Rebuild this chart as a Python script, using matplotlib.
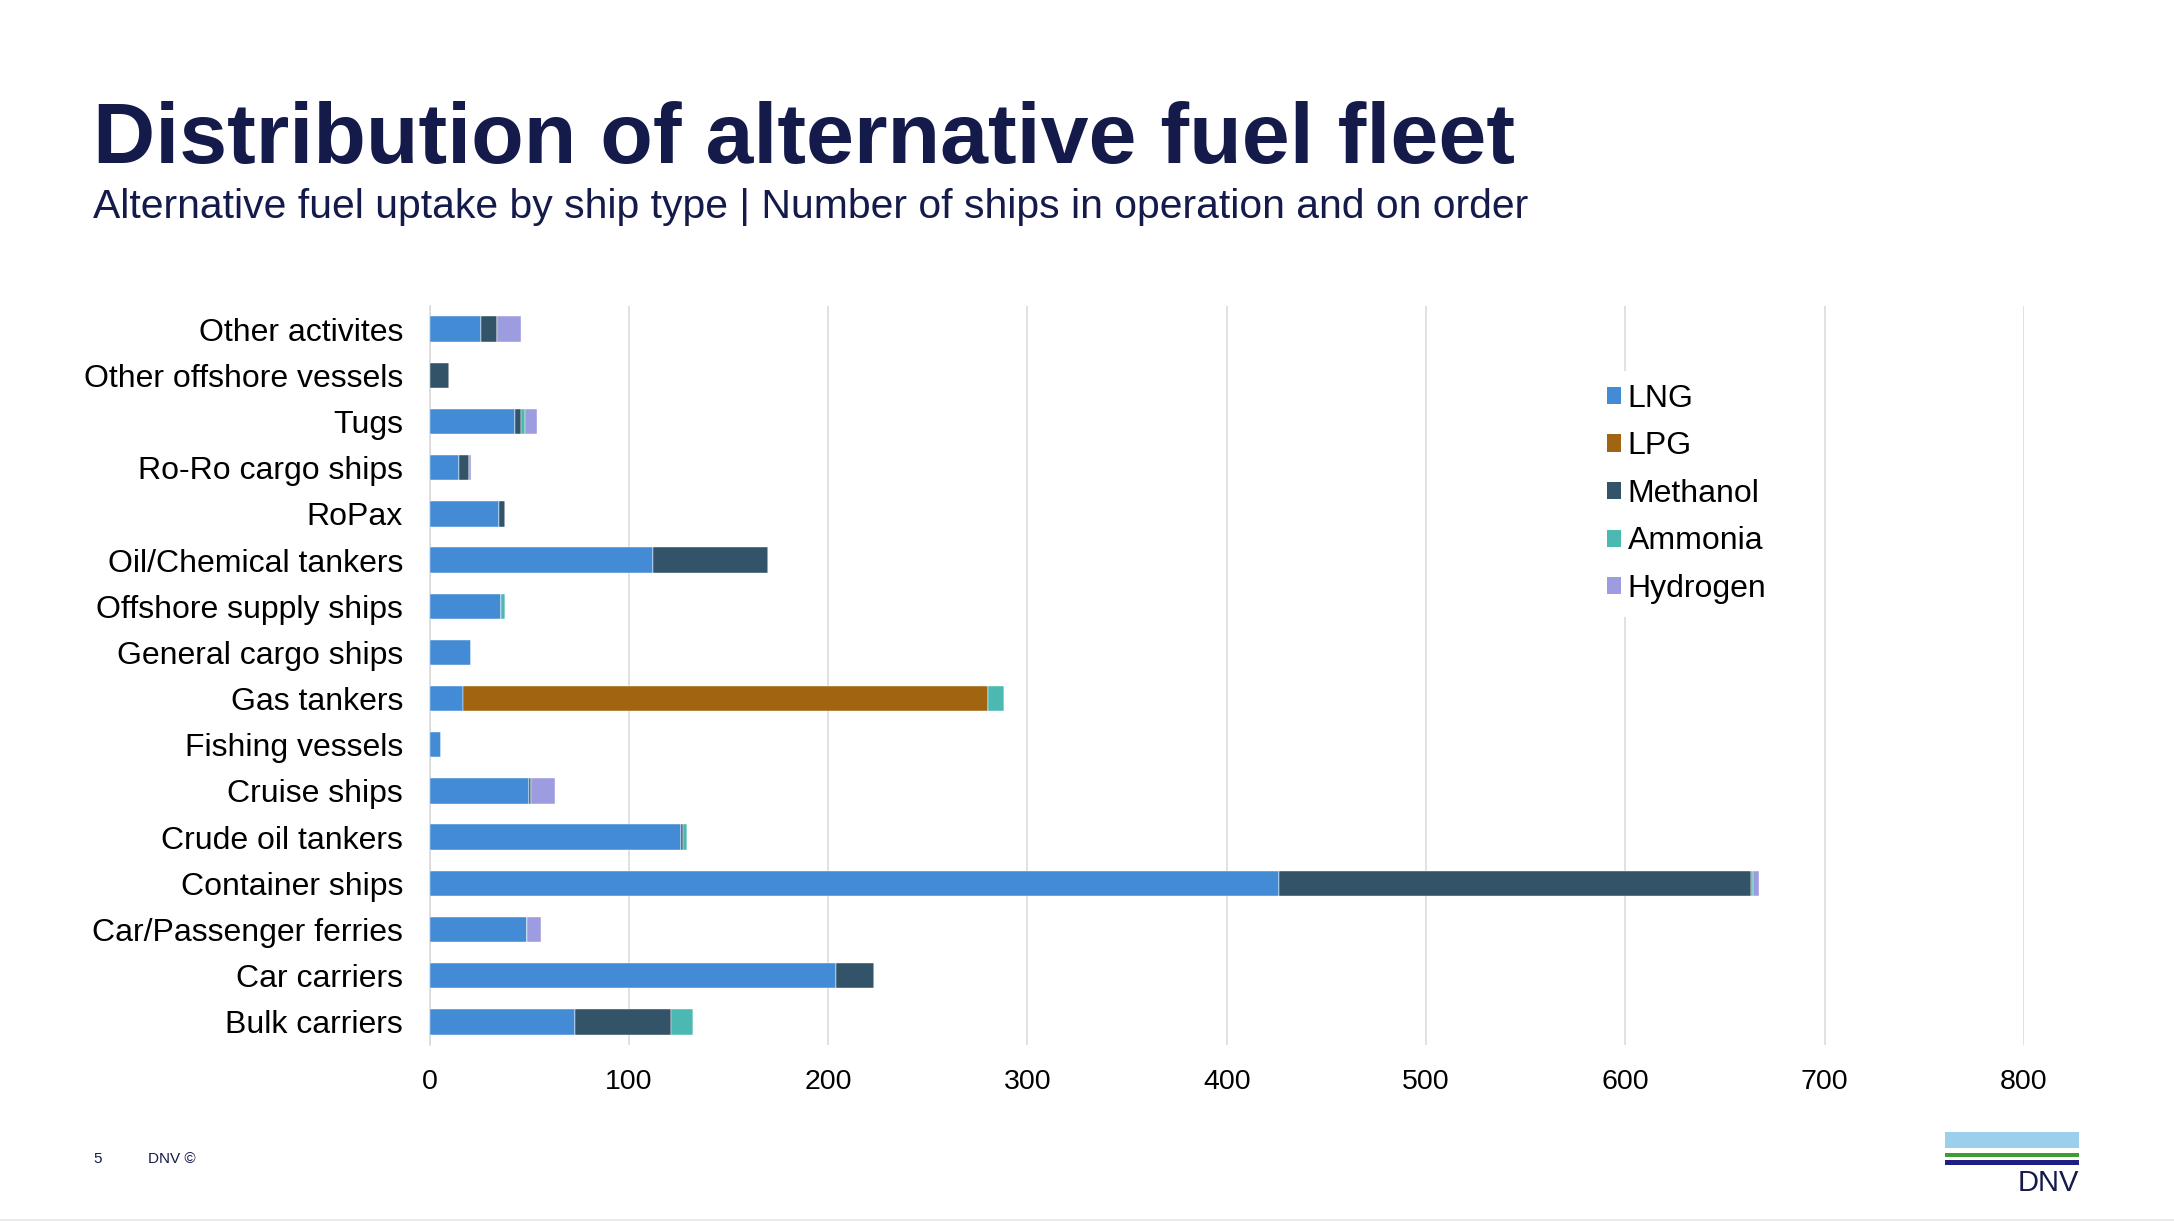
import numpy as np
import matplotlib.pyplot as plt
from matplotlib.patches import Patch, Rectangle

plt.rcParams['font.family'] = ['Liberation Sans', 'DejaVu Sans']

# ================ Data ================
categories = [
    "Bulk carriers", "Car carriers", "Car/Passenger ferries", "Container ships",
    "Crude oil tankers", "Cruise ships", "Fishing vessels", "Gas tankers",
    "General cargo ships", "Offshore supply ships", "Oil/Chemical tankers",
    "RoPax", "Ro-Ro cargo ships", "Tugs", "Other offshore vessels",
    "Other activites",
]
lng      = [73, 204, 49, 426, 126, 50, 6, 17, 21, 36, 112, 35, 15, 43, 0, 26]
lpg      = [0, 0, 0, 0, 0, 0, 0, 263, 0, 0, 0, 0, 0, 0, 0, 0]
methanol = [48, 19, 0, 237, 1, 1, 0, 0, 0, 0, 58, 3, 5, 3, 10, 8]
ammonia  = [11, 0, 0, 1, 2, 0, 0, 8, 0, 2, 0, 0, 0, 2, 0, 0]
hydrogen = [0, 0, 7, 3, 0, 12, 0, 0, 0, 0, 0, 0, 1, 6, 0, 12]

series_names = ["LNG", "LPG", "Methanol", "Ammonia", "Hydrogen"]
series_vals  = [lng, lpg, methanol, ammonia, hydrogen]
x_ticks      = [0, 100, 200, 300, 400, 500, 600, 700, 800]

# ================ Styles ================
_COLORS = ["#438cd5", "#a16410", "#325368", "#4bb8b1", "#9e9ce0"]
_NAVY   = "#141a4a"
_GRID   = "#d9d9d9"

W, H = 2174, 1222
fig = plt.figure(figsize=(W / 100, H / 100), dpi=100)
ax = fig.add_axes([429.5 / W, 1 - 1045 / H, (2024 - 429.5) / W, 739 / H])

y = np.arange(len(categories))
left = np.zeros(len(categories))
for name, vals, col in zip(series_names, series_vals, _COLORS):
    vals = np.asarray(vals, dtype=float)
    ax.barh(y, vals, left=left, height=0.55, color=col, label=name,
            edgecolor="white", linewidth=0.3, zorder=3)
    left += vals

ax.set_xlim(0, 800)
ax.set_ylim(-0.5, len(categories) - 0.5)
ax.set_xticks(x_ticks)
ax.set_yticks(y)
ax.set_yticklabels(categories)
ax.tick_params(axis="y", length=0, pad=19, labelsize=23, labelcolor="black")
ax.tick_params(axis="x", length=0, pad=17, labelsize=20.5, labelcolor="black")
ax.xaxis.grid(True, color=_GRID, linewidth=1.1, zorder=0)
ax.set_axisbelow(True)
for side in ["top", "right", "bottom"]:
    ax.spines[side].set_visible(False)
ax.spines["left"].set_color(_GRID)
ax.spines["left"].set_linewidth(1.1)

handles = [Patch(facecolor=c, edgecolor="none") for c in _COLORS]
leg = ax.legend(
    handles, series_names,
    loc="upper left",
    bbox_to_anchor=(1594 / W, 1 - 371 / H),
    bbox_transform=fig.transFigure,
    fontsize=23,
    handlelength=0.45, handleheight=0.45, handletextpad=0.2,
    labelspacing=0.55, borderpad=0.4, borderaxespad=0,
    frameon=True, facecolor="white", edgecolor="none", framealpha=1,
)
leg.set_zorder(5)

# -------- Titles --------
fig.text(93 / W, 1 - 163 / H, "Distribution of alternative fuel fleet",
         fontsize=62, fontweight="bold", color=_NAVY, va="baseline")
fig.text(93 / W, 1 - 218 / H,
         "Alternative fuel uptake by ship type | Number of ships in operation and on order",
         fontsize=29.4, color=_NAVY, va="baseline")

# -------- Footer --------
fig.text(93 / W, 1 - 1163 / H, "5", fontsize=11, color=_NAVY, va="baseline")
fig.text(148 / W, 1 - 1163 / H, "DNV \u00a9", fontsize=11, color=_NAVY, va="baseline")
fig.add_artist(plt.Line2D([0, 1], [1 - 1220 / H] * 2, color="#e6e6e6",
                          linewidth=1.2, transform=fig.transFigure))

# -------- DNV logo --------
for y0, y1, col in [(1132, 1148, "#9ccfec"), (1152.5, 1156.5, "#3f9c35"),
                    (1160, 1165, "#1f2182")]:
    fig.add_artist(Rectangle((1945 / W, 1 - y1 / H), (2079 - 1945) / W,
                             (y1 - y0) / H, transform=fig.transFigure,
                             facecolor=col, edgecolor="none"))
fig.text(2079 / W, 1 - 1191 / H, "DNV", fontsize=21, color=_NAVY,
         ha="right", va="baseline")

fig.savefig("out.png", dpi=100, facecolor="white")
